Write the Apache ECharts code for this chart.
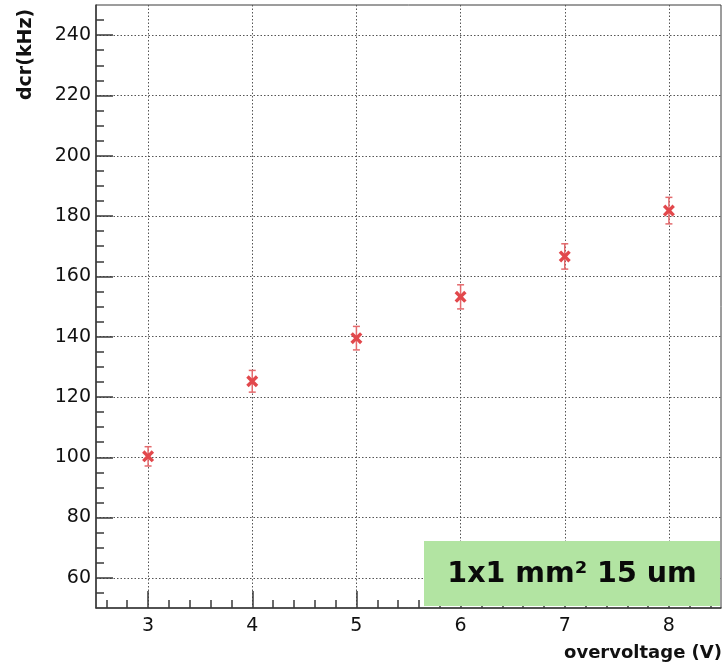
<!DOCTYPE html>
<html>
<head>
<meta charset="utf-8">
<script src="https://cdn.jsdelivr.net/npm/echarts@6/dist/echarts.min.js"></script>
<style>
html,body{margin:0;padding:0;background:#fff;}
#chart{width:726px;height:666px;}
</style>
</head>
<body>
<div id="chart"></div>
<script>
// ---- data ----
const overvoltage = [3, 4, 5, 6, 7, 8];
const dcr = [100.3, 125.2, 139.5, 153.2, 166.6, 181.8];
const dcrErr = [3.2, 3.6, 3.9, 4.0, 4.2, 4.4];
const xTicks = [3, 4, 5, 6, 7, 8];
const yTicks = [60, 80, 100, 120, 140, 160, 180, 200, 220, 240];
const xTitle = 'overvoltage (V)';
const yTitle = 'dcr(kHz)';
const boxLabel = '1x1 mm\u00B2 15 um';

const xMin = 2.5, xMax = 8.5, yMin = 50, yMax = 250;

// minor tick positions (ROOT style: 5 subdivisions on x, 4 on y)
const xMinor = [];
for (let v = 26; v <= 84; v += 2) { if (v % 10 !== 0) xMinor.push(v / 10); }
const yMinor = [];
for (let v = 55; v <= 245; v += 5) { if (v % 20 !== 0) yMinor.push(v); }

const points = overvoltage.map((x, i) => [x, dcr[i]]);
const errData = overvoltage.map((x, i) => [x, dcr[i] - dcrErr[i], dcr[i] + dcrErr[i]]);

const chart = echarts.init(document.getElementById('chart'), null, {renderer: 'canvas'});
const axisColor = '#3a3a3a';
const labelFont = {fontFamily: 'DejaVu Sans', fontSize: 19, color: '#111'};
const red = '#e2484c';

chart.setOption({
  animation: false,
  backgroundColor: '#fff',
  grid: {left: 96, right: 5, top: 5, bottom: 58, show: true, borderColor: axisColor, borderWidth: 1, containLabel: false},
  xAxis: [{
    type: 'value', min: xMin, max: xMax, minInterval: 1, maxInterval: 1,
    axisLine: {show: true, onZero: false, lineStyle: {color: axisColor, width: 1.5}},
    axisTick: {show: true, inside: true, length: 17, customValues: xTicks, lineStyle: {color: axisColor, width: 1.5}},
    axisLabel: Object.assign({show: true, margin: 9, customValues: xTicks}, labelFont),
    splitLine: {show: true, lineStyle: {color: '#555', type: [1.5, 2], width: 1}}
  }, {
    type: 'value', min: xMin, max: xMax, position: 'bottom',
    axisLine: {show: false},
    axisTick: {show: true, inside: true, length: 8, customValues: xMinor, lineStyle: {color: axisColor, width: 1.5}},
    axisLabel: {show: false},
    splitLine: {show: false}
  }],
  yAxis: [{
    type: 'value', min: yMin, max: yMax, minInterval: 20, maxInterval: 20,
    axisLine: {show: true, onZero: false, lineStyle: {color: axisColor, width: 1.5}},
    axisTick: {show: true, inside: true, length: 17, customValues: yTicks, lineStyle: {color: axisColor, width: 1.5}},
    axisLabel: Object.assign({show: true, margin: 5, customValues: yTicks}, labelFont),
    splitLine: {show: true, lineStyle: {color: '#555', type: [1.5, 2], width: 1}}
  }, {
    type: 'value', min: yMin, max: yMax, position: 'left',
    axisLine: {show: false},
    axisTick: {show: true, inside: true, length: 8, customValues: yMinor, lineStyle: {color: axisColor, width: 1.5}},
    axisLabel: {show: false},
    splitLine: {show: false}
  }],
  series: [{
    type: 'custom',
    xAxisIndex: 0, yAxisIndex: 0,
    data: errData,
    z: 3,
    renderItem: function (params, api) {
      const x = api.value(0);
      const lo = api.coord([x, api.value(1)]);
      const hi = api.coord([x, api.value(2)]);
      const cap = 3.5;
      const st = {stroke: '#e46a6d', lineWidth: 1.5};
      return {
        type: 'group',
        children: [
          {type: 'line', shape: {x1: lo[0], y1: lo[1], x2: hi[0], y2: hi[1]}, style: st},
          {type: 'line', shape: {x1: lo[0] - cap, y1: lo[1], x2: lo[0] + cap, y2: lo[1]}, style: st},
          {type: 'line', shape: {x1: hi[0] - cap, y1: hi[1], x2: hi[0] + cap, y2: hi[1]}, style: st}
        ]
      };
    }
  }, {
    type: 'scatter',
    xAxisIndex: 0, yAxisIndex: 0,
    data: points,
    z: 4,
    symbol: 'path://M0,2 L2,0 L5,3 L8,0 L10,2 L7,5 L10,8 L8,10 L5,7 L2,10 L0,8 L3,5 Z',
    symbolSize: 12,
    itemStyle: {color: red, opacity: 1}
  }],
  graphic: [
    {type: 'text', z: 100, rotation: Math.PI / 2, style: {text: yTitle, font: 'bold 19px "DejaVu Sans"', fill: '#111', verticalAlign: 'top', align: 'left'},
     x: 17, y: 100},
    {type: 'text', z: 100, style: {text: xTitle, font: 'bold 18px "DejaVu Sans"', fill: '#111', align: 'right', verticalAlign: 'bottom'}, x: 722, y: 662},
    {type: 'rect', z: 100, shape: {x: 424, y: 541, width: 296, height: 65}, style: {fill: '#b2e4a2'}},
    {type: 'text', z: 101, style: {text: boxLabel, font: 'bold 28.5px "DejaVu Sans"', fill: '#0a0a0a', align: 'center', verticalAlign: 'middle'}, x: 572, y: 575}
  ]
});
</script>
</body>
</html>
